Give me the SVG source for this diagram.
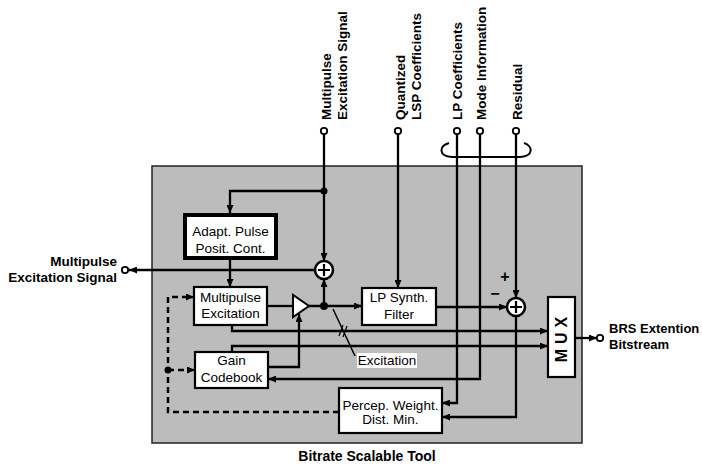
<svg xmlns="http://www.w3.org/2000/svg" width="702" height="464" viewBox="0 0 702 464">
<defs>
<marker id="ah" markerUnits="userSpaceOnUse" markerWidth="8" markerHeight="7" refX="8" refY="3.5" orient="auto">
<path d="M0,0 L8,3.5 L0,7 z" fill="#000"/>
</marker>
<style>
.w{fill:none;stroke:#000;stroke-width:2.3}
.d{fill:none;stroke:#000;stroke-width:2.5;stroke-dasharray:6,4}
.box{fill:#fff;stroke:#000;stroke-width:2.2}
.t{font-family:"Liberation Sans",Arial,sans-serif;font-size:13.5px;fill:#000;text-anchor:middle}
.b{font-family:"Liberation Sans",Arial,sans-serif;font-size:13.5px;font-weight:bold;fill:#000}
.term{fill:#fff;stroke:#000;stroke-width:1.8}
.sum{fill:#fff;stroke:#000;stroke-width:2.5}
</style>
</defs>
<rect x="0" y="0" width="702" height="464" fill="#fff"/>
<rect id="tool" x="152" y="166" width="430" height="277" fill="#bcbcbc" stroke="#222" stroke-width="1.5"/>
<text class="b" x="367" y="461" text-anchor="middle" style="font-size:14px">Bitrate Scalable Tool</text>

<g id="connectors">
<path class="w" d="M324,134 V261" marker-end="url(#ah)"/>
<path class="w" d="M324,191 H230 V213" marker-end="url(#ah)"/>
<path class="w" d="M230,260 V287" marker-end="url(#ah)"/>
<path class="w" d="M315,270 H129" marker-end="url(#ah)"/>
<path class="w" d="M267,306 H293"/>
<path class="w" d="M309,306 H362" marker-end="url(#ah)"/>
<path class="w" d="M324,306 V279" marker-end="url(#ah)"/>
<path class="w" d="M268,367 H299 V314" marker-end="url(#ah)"/>
<path class="w" d="M232,325 V331 H548" marker-end="url(#ah)"/>
<path class="w" d="M232,352 V346 H548" marker-end="url(#ah)"/>
<path class="w" d="M398,134 V288" marker-end="url(#ah)"/>
<path class="w" d="M457,134 V403 H442" marker-end="url(#ah)"/>
<path class="w" d="M480,134 V379 H268" marker-end="url(#ah)"/>
<path class="w" d="M516,134 V298" marker-end="url(#ah)"/>
<path class="w" d="M436,307 H507" marker-end="url(#ah)"/>
<path class="w" d="M516,316 V417 H442" marker-end="url(#ah)"/>
<path class="w" d="M575,338 H597" marker-end="url(#ah)"/>
<path class="d" d="M339,412 H168 V297 H187"/>
<path class="w" d="M186,297 H194" marker-end="url(#ah)"/>
<path class="d" d="M168,370 H188"/>
<path class="w" d="M187,370 H195" marker-end="url(#ah)"/>
<circle cx="324" cy="191" r="3.5"/>
<circle cx="324" cy="306" r="4"/>
<circle cx="168" cy="370" r="3.5"/>
<path d="M333,309 L355,356" fill="none" stroke="#000" stroke-width="1.5"/>
<path d="M339,336 L343,325 M343,337 L347,326" fill="none" stroke="#000" stroke-width="1.2"/>
<path d="M449,143 C439,146 438,156 452,157 H520 C534,156 533,146 524,143" fill="none" stroke="#000" stroke-width="2"/>
</g>

<g id="terminals">
<circle class="term" cx="324" cy="131" r="3.2"/>
<circle class="term" cx="398" cy="131" r="3.2"/>
<circle class="term" cx="457" cy="131" r="3.2"/>
<circle class="term" cx="480" cy="131" r="3.2"/>
<circle class="term" cx="516" cy="131" r="3.2"/>
<circle class="term" cx="125" cy="270" r="3.2"/>
<circle class="term" cx="600" cy="338" r="3.2"/>
</g>

<g id="top-labels">
<text class="b" transform="translate(331,120) rotate(-90)">Multipulse</text>
<text class="b" transform="translate(347,120) rotate(-90)">Excitation Signal</text>
<text class="b" transform="translate(405,120) rotate(-90)">Quantized</text>
<text class="b" transform="translate(421,120) rotate(-90)">LSP Coefficients</text>
<text class="b" transform="translate(462,120) rotate(-90)">LP Coefficients</text>
<text class="b" transform="translate(486,120) rotate(-90)">Mode Information</text>
<text class="b" transform="translate(522,120) rotate(-90)">Residual</text>
</g>

<g id="left-label">
<text class="b" x="117" y="266" text-anchor="end">Multipulse</text>
<text class="b" x="117" y="282" text-anchor="end">Excitation Signal</text>
</g>

<g id="out-label">
<text class="b" x="609" y="333" style="font-size:13px">BRS Extention</text>
<text class="b" x="609" y="349" style="font-size:13px">Bitstream</text>
</g>

<g id="adapt">
<rect x="185" y="215" width="91" height="43" fill="#fff" stroke="#000" stroke-width="4"/>
<text class="t" x="230.5" y="236">Adapt. Pulse</text>
<text class="t" x="230.5" y="253">Posit. Cont.</text>
</g>

<g id="sum1">
<circle class="sum" cx="324" cy="270" r="9"/>
<path d="M318,270 H330 M324,264 V276" stroke="#000" stroke-width="2.2"/>
</g>

<g id="multipulse">
<rect class="box" x="194" y="287" width="73" height="38"/>
<text class="t" x="230.5" y="302">Multipulse</text>
<text class="t" x="230.5" y="318">Excitation</text>
</g>

<g id="gain-amp">
<polygon points="293,295 293,317 309,306" fill="#fff" stroke="#000" stroke-width="2"/>
</g>

<g id="gain">
<rect class="box" x="195" y="352" width="73" height="36"/>
<text class="t" x="231.5" y="365">Gain</text>
<text class="t" x="231.5" y="382">Codebook</text>
</g>

<g id="lpsynth">
<rect class="box" x="362" y="288" width="74" height="37"/>
<text class="t" x="399" y="302">LP Synth.</text>
<text class="t" x="399" y="319">Filter</text>
</g>

<g id="sum2">
<circle class="sum" cx="516" cy="307" r="9"/>
<path d="M510,307 H522 M516,301 V313" stroke="#000" stroke-width="2.2"/>
<text class="b" x="505" y="282" text-anchor="middle" style="font-size:16px">+</text>
<text class="b" x="495" y="299" text-anchor="middle" style="font-size:16px">−</text>
</g>

<g id="mux">
<rect class="box" x="548" y="297" width="27" height="80"/>
<text class="b" transform="translate(567,337) rotate(-90)" text-anchor="middle" style="font-size:16px;letter-spacing:5px">MUX</text>
</g>

<g id="percep">
<rect class="box" x="339" y="388" width="103" height="45"/>
<text class="t" x="390.5" y="410">Percep. Weight.</text>
<text class="t" x="390.5" y="424">Dist. Min.</text>
</g>

<g id="excitation-label">
<rect x="357" y="353" width="60" height="15" fill="#fff"/>
<text class="t" x="387" y="365">Excitation</text>
</g>
</svg>
